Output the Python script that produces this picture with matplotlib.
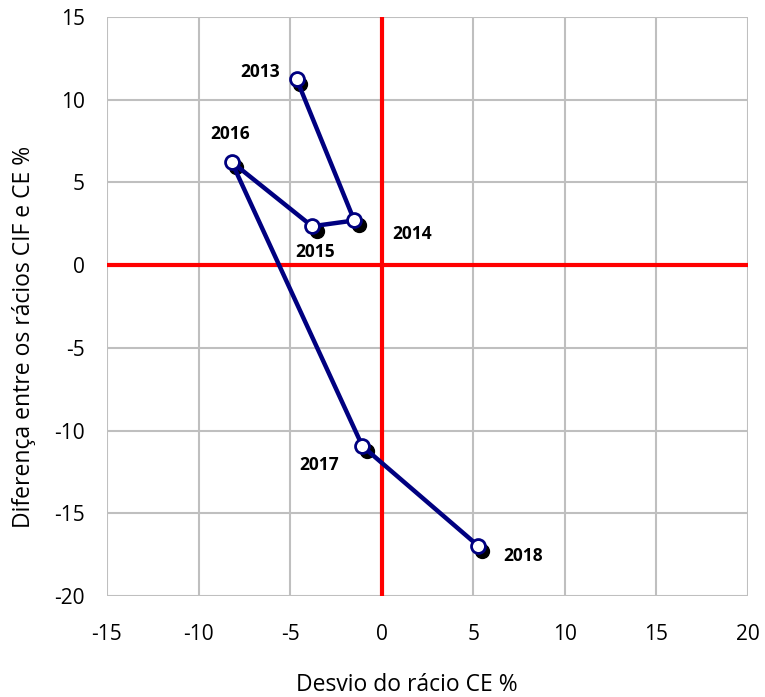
import matplotlib
matplotlib.use('Agg')
import matplotlib.pyplot as plt
import numpy as np

plt.rcParams['font.family'] = ['Open Sans', 'DejaVu Sans']
plt.rcParams['axes.unicode_minus'] = False

# Data
years = ['2013', '2014', '2015', '2016', '2017', '2018']
desvio = [-4.65, -1.5, -3.8, -8.2, -1.05, 5.25]
diferenca = [11.25, 2.7, 2.35, 6.25, -10.95, -16.95]
# shadow points (slightly offset)
desvio_sh = [-4.45, -1.25, -3.55, -7.95, -0.8, 5.5]
diferenca_sh = [10.95, 2.4, 2.05, 5.95, -11.25, -17.25]

# label offsets in pixels
label_offsets = [(-36, 7), (58, -14), (3, -26), (-1, 28), (-43, -19), (45, -10)]

fig = plt.figure(figsize=(7.65, 6.97), dpi=100)
ax = fig.add_axes([107 / 765, 1 - 596 / 697, 641 / 765, 579 / 697])

ax.set_xlim(-15, 20)
ax.set_ylim(-20, 15)
ax.set_xticks(np.arange(-15, 21, 5))
ax.set_yticks(np.arange(-20, 16, 5))
ax.grid(True, color='#BFBFBF', linewidth=1.5)
ax.set_axisbelow(True)
for s in ax.spines.values():
    s.set_visible(False)
ax.tick_params(axis='x', length=0, labelsize=15, pad=20)
ax.tick_params(axis='y', length=0, labelsize=15, pad=16)

ax.axhline(0, color='#FF0000', linewidth=3, zorder=2)
ax.axvline(0, color='#FF0000', linewidth=3, zorder=2)

ax.plot(desvio_sh, diferenca_sh, 'o', color='black', markersize=10, zorder=3)
ax.plot(desvio, diferenca, '-', color='#000080', linewidth=3.2, zorder=4,
        marker='o', markersize=10, markerfacecolor='white',
        markeredgecolor='#000080', markeredgewidth=2)

for yr, x, y, off in zip(years, desvio, diferenca, label_offsets):
    ax.annotate(yr, (x, y), xytext=off, textcoords='offset pixels',
                ha='center', va='center', fontsize=12.5, fontweight='bold')

ax.set_xlabel('Desvio do rácio CE %', fontsize=16.5, va='center', ha='center')
ax.xaxis.set_label_coords((407 - 107) / 641, (596 - 685) / 579)
ax.set_ylabel('Diferença entre os rácios CIF e CE %', fontsize=16.5,
              va='center', ha='center')
ax.yaxis.set_label_coords((24 - 107) / 641, (596 - 337) / 579)

fig.savefig('out.png', dpi=100)
